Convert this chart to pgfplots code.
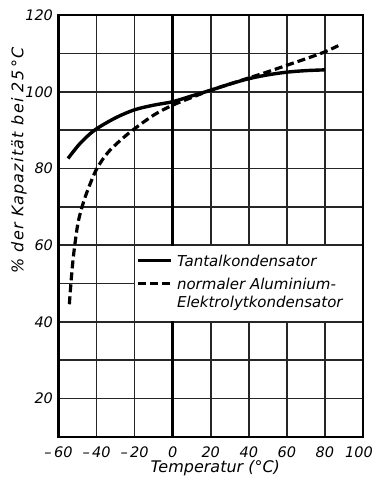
\documentclass[border=0pt]{standalone}
\usepackage{pgfplots}
\pgfplotsset{compat=1.18}
\usepackage{fontspec}
\setmainfont{DejaVu Sans}
\begin{document}
\begin{tikzpicture}
\begin{axis}[
 name=ax,
 width=304.5pt, height=422pt, scale only axis,
 xmin=-60, xmax=100, ymin=10, ymax=120,
 xtick={-60,-40,...,100},
 xticklabels={–\,60,–\,40,–\,20,0,20,40,60,80,\hspace*{-8pt}100},
 ytick={10,20,...,120},
 yticklabels={,20,,40,,60,,80,,100,,120},
 grid=major,
 grid style={black!85, line width=1.6pt},
 major tick length=0pt,
 axis line style={line width=2.4pt},
 extra x ticks={0}, extra x tick labels={},
 extra x tick style={major grid style={black,line width=2.4pt}},
 tick label style={font=\fontsize{14.5}{16}\selectfont\itshape},
 yticklabel style={xshift=-2pt},
 xticklabel style={yshift=-6pt},
 xlabel={Temperatur (°C)},
 ylabel={\% der Kapazität bei 25\,°C},
 xlabel style={font=\fontsize{16}{18}\selectfont\itshape, at={(axis description cs:0.515,0)}, anchor=center, yshift=-31pt},
 ylabel style={font=\fontsize{16}{18}\selectfont\itshape\addfontfeatures{LetterSpace=8}, at={(axis description cs:-0.13,0.655)}, anchor=center},
 legend style={draw=none, fill=none, at={(axis cs:-19.3,57.8)}, anchor=north west,
   font=\fontsize{15}{18}\selectfont\itshape,
   nodes={inner sep=1.5pt, text height=11.5pt, text depth=3.5pt},
   row sep=5pt, column sep=3pt, inner sep=0pt},
 legend cell align=left,
 legend image code/.code={\draw[#1] (0pt,2.5pt) -- (33pt,2.5pt);},
]
\fill[white] (axis cs:-19.55,40.25) rectangle (axis cs:99.3,59.75);
\addplot[black, line width=3.4pt, smooth] coordinates {
(-55,82.6) (-48.7,86.5) (-41,90) (-30,93.2) (-20,95.3) (-10,96.5) (0,97.4)
(10,98.9) (20,100.4) (30,102) (40,103.4) (50,104.4) (60,105.1) (70,105.5) (80,105.7)};
\addlegendentry{Tantalkondensator}
\addplot[black, line width=3.2pt, dash pattern=on 8pt off 4pt, smooth] coordinates {
(-54.3,44.6) (-53.4,50.5) (-52.4,56) (-51.3,60.6) (-49.6,66.2) (-47,71) (-44.3,74.8)
(-40,79.8) (-33.8,84.3) (-23.3,89.1) (-10,93.9) (0,96.5) (10,98.5) (20,100.4)
(30,102) (40,103.6) (50,105.2) (60,106.9) (70,108.6) (80,110.4) (87,112)};
\addlegendentry{normaler Aluminium-}
\addlegendimage{empty legend}
\addlegendentry{\raisebox{5pt}[\height][\depth]{Elektrolytkondensator}}
\end{axis}
\pgfresetboundingbox
\path ([shift={(-58.5pt,-45pt)}]ax.south west) rectangle ([shift={(12pt,15pt)}]ax.north east);
\end{tikzpicture}
\end{document}
